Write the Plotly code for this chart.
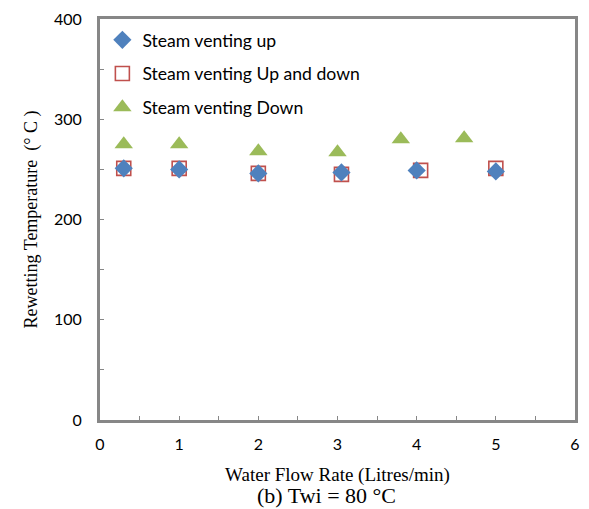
import plotly.graph_objects as go

# Rewetting temperature vs. water flow rate, Twi = 80 °C
flow_up = [0.3, 1.0, 2.0, 3.05, 4.0, 5.0]
temp_up = [251, 250, 246, 247, 249, 248]

flow_updown = [0.3, 1.0, 2.0, 3.05, 4.05, 5.0]
temp_updown = [251, 251, 246, 245, 249, 251]

flow_down = [0.3, 1.0, 2.0, 3.0, 3.8, 4.6]
temp_down = [275, 275, 268, 267, 280, 281]

x_ticks = [0, 1, 2, 3, 4, 5, 6]
y_ticks = [0, 100, 200, 300, 400]

sans = "Lato"
serif = "Liberation Serif"

fig = go.Figure()

fig.add_trace(go.Scatter(
    x=flow_updown, y=temp_updown, mode="markers", name="Steam venting Up and down",
    marker=dict(symbol="square-open", size=14, color="#c0504d", line=dict(width=1.6)),
    legend="legend2",
))
fig.add_trace(go.Scatter(
    x=flow_up, y=temp_up, mode="markers", name="Steam venting up",
    marker=dict(symbol="diamond", size=14, color="#4f81bd"),
    legend="legend",
))
fig.add_trace(go.Scatter(
    x=flow_down, y=temp_down, mode="markers", name="Steam venting Down",
    marker=dict(symbol="triangle-up", size=16, color="#9bbb59"),
    legend="legend3",
))

legend_style = dict(
    xanchor="left", yanchor="middle", bgcolor="rgba(0,0,0,0)",
    font=dict(family=sans, size=17.6, color="#000"), itemwidth=30,
)

axis_common = dict(
    showline=True, mirror=True, linecolor="#878787", linewidth=3,
    showgrid=False, zeroline=False, ticks="inside", ticklen=4, tickcolor="#878787",
    tickfont=dict(family=sans, size=16, color="#000"),
)

fig.update_layout(
    width=589, height=509,
    showlegend=True,
    margin=dict(l=100, r=9, t=13, b=89),
    paper_bgcolor="white", plot_bgcolor="white",
    legend=dict(x=0.005, y=0.948, **legend_style),
    legend2=dict(x=0.005, y=0.864, **legend_style),
    legend3=dict(x=0.005, y=0.780, **legend_style),
    xaxis=dict(
        range=[0, 6], tickvals=x_ticks, ticktext=[str(v) for v in x_ticks],
        minor=dict(dtick=0.5, ticks="inside", ticklen=4, tickcolor="#878787"),
        ticklabelstandoff=8,
        title=dict(text="Water Flow Rate (Litres/min)", standoff=16,
                   font=dict(family=serif, size=19, color="#000")),
        **axis_common,
    ),
    yaxis=dict(
        range=[0, 400], tickvals=y_ticks, ticktext=[str(v) for v in y_ticks],
        minor=dict(dtick=50, ticks="inside", ticklen=4, tickcolor="#878787"),
        ticklabelstandoff=12,
        title=dict(text="Rewetting Temperature&nbsp; (° C )", standoff=12,
                   font=dict(family=serif, size=18, color="#000")),
        **axis_common,
    ),
    annotations=[dict(
        text="(b) Twi = 80 °C", xref="paper", yref="paper", x=0.477, y=-0.188,
        xanchor="center", yanchor="middle", showarrow=False,
        font=dict(family=serif, size=22, color="#000"),
    )],
)

fig.write_html("out.html")
